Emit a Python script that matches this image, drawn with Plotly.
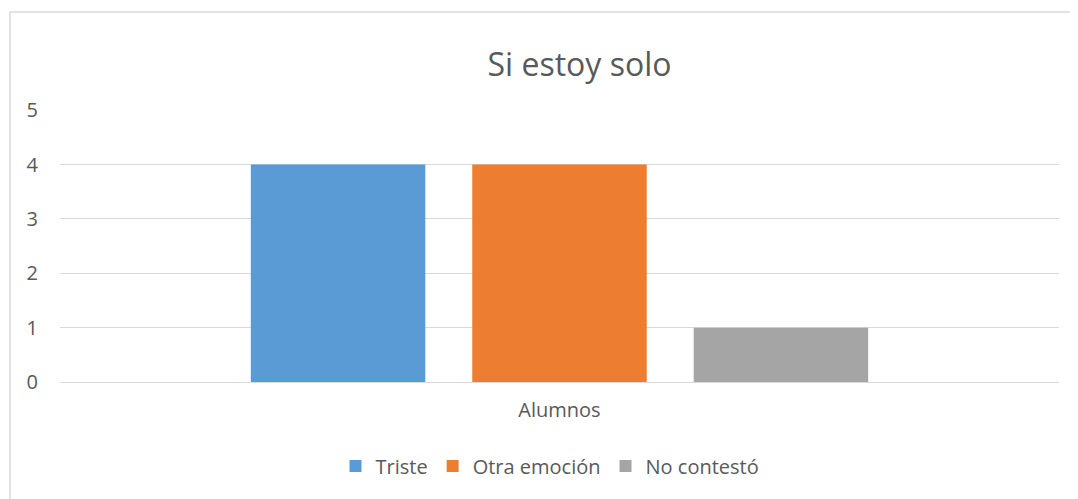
import plotly.graph_objects as go

categories = ["Alumnos"]
series_names = ["Triste", "Otra emoción", "No contestó"]
series_values = [[4], [4], [1]]
colors = ["#5b9bd5", "#ed7d31", "#a5a5a5"]
y_ticks = [0, 1, 2, 3, 4, 5]

fig = go.Figure()
for name, vals, col in zip(series_names, series_values, colors):
    fig.add_trace(go.Bar(x=categories, y=vals, name=name, marker_color=col,
                         marker_line_width=0))

# page body adds an 8px offset; figure coords = reference coords - 8
OFF = 8
W, H = 1078 - OFF, 499 - OFF
ml, mr, mt, mb = 60 - OFF, 19, 110 - OFF, 117
pw, ph = W - ml - mr, H - mt - mb

def px_x(x):
    return (x - OFF - ml) / pw

def px_y(y):
    return (H - mb - (y - OFF)) / ph

font_family = "Open Sans, Noto Sans, sans-serif"
fig.update_layout(
    width=W, height=H,
    margin=dict(l=ml, r=mr, t=mt, b=mb),
    paper_bgcolor="white", plot_bgcolor="white",
    barmode="group", bargap=0.335, bargroupgap=0.212,
    title=dict(text="Si estoy solo", x=(579.5 - OFF) / W, xanchor="center",
               xref="container",
               y=1 - (65 - OFF) / H, yanchor="middle",
               font=dict(family=font_family, size=32, color="#595959")),
    font=dict(family=font_family, size=20, color="#595959"),
    showlegend=True,
    legend=dict(orientation="h", x=px_x(550), xanchor="center", y=px_y(466), yanchor="middle",
                font=dict(size=20, color="#595959"), itemwidth=30,
                traceorder="normal"),
    shapes=[dict(type="rect", xref="paper", yref="paper",
                 x0=px_x(10), y0=px_y(600), x1=px_x(1200), y1=px_y(12),
                 line=dict(color="#d9d9d9", width=1.5), fillcolor="rgba(0,0,0,0)",
                 layer="below")],
)
fig.update_yaxes(range=[0, 5.004], tickvals=y_ticks, showgrid=True, gridcolor="#d9d9d9",
                 gridwidth=1, zeroline=True, zerolinecolor="#d9d9d9", zerolinewidth=1,
                 showline=False, ticks="",
                 tickfont=dict(size=20, color="#595959"), ticklabelstandoff=21)
fig.update_xaxes(showgrid=False, showline=False, ticks="", zeroline=False,
                 tickfont=dict(size=20, color="#595959"), ticklabelstandoff=14)

fig.write_html("out.html")
